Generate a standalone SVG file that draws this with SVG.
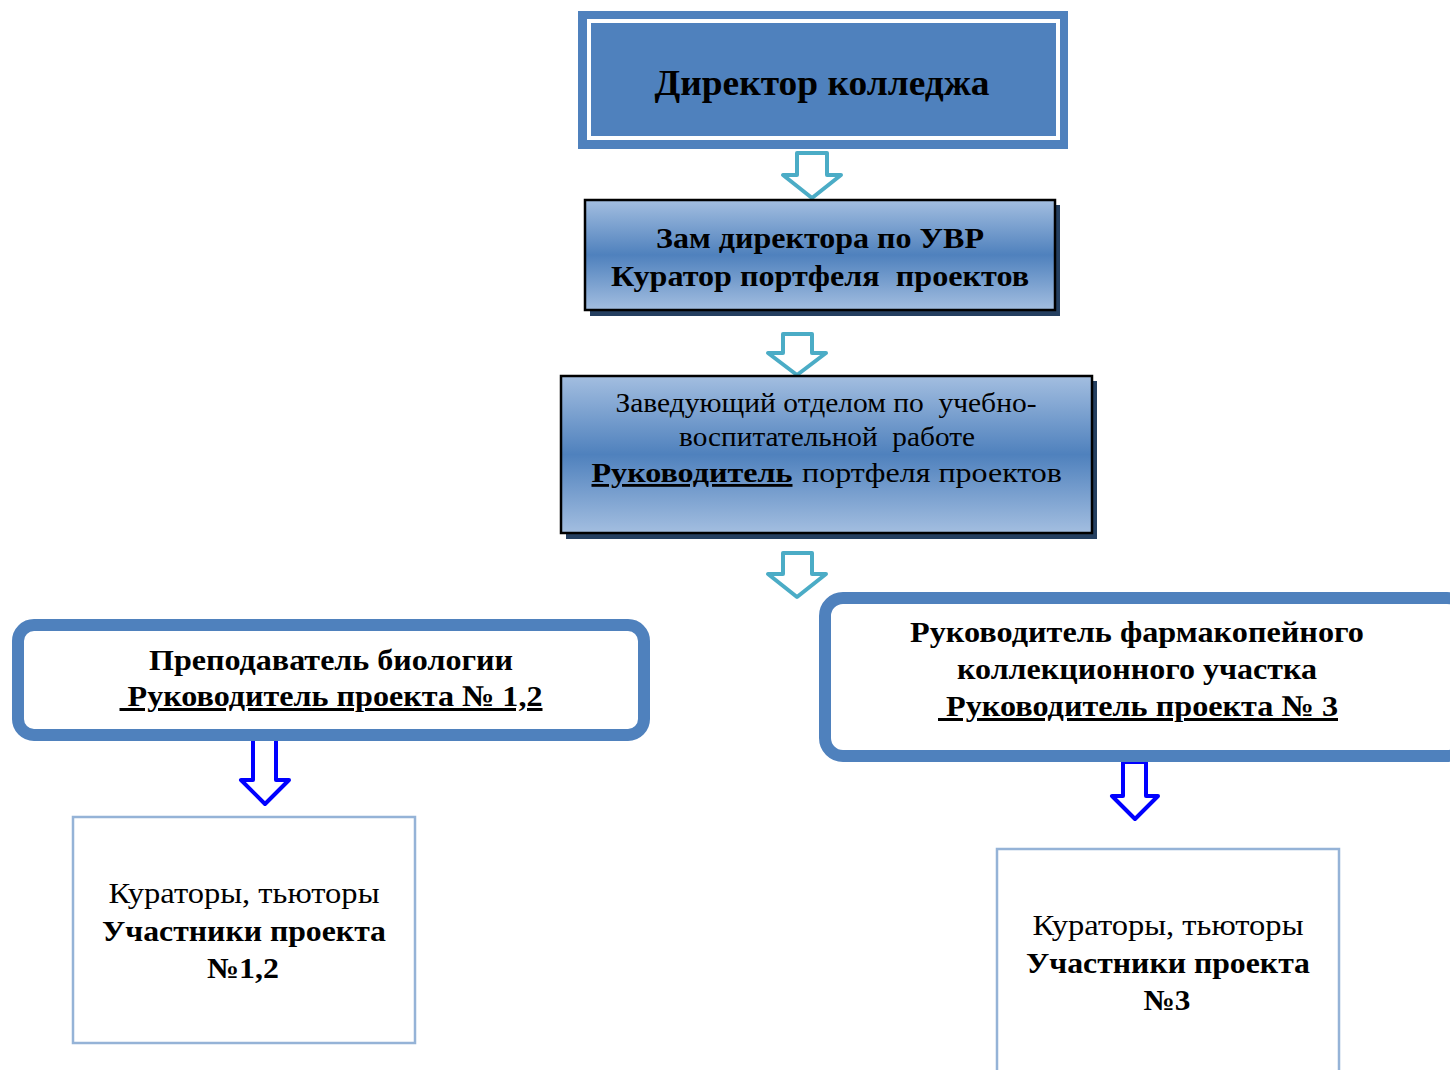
<svg xmlns="http://www.w3.org/2000/svg" width="1450" height="1070" viewBox="0 0 1450 1070">
<defs>
<linearGradient id="g" x1="0" y1="0" x2="0" y2="1">
<stop offset="0" stop-color="#A3BEE0"/>
<stop offset="0.5" stop-color="#4F81BD"/>
<stop offset="1" stop-color="#A3BEE0"/>
</linearGradient>
<style>
text{fill:#000;text-anchor:middle}
.b{font-weight:bold}
.u{text-decoration:underline}
.cy{fill:#fff;stroke:#4BACC6;stroke-width:4;stroke-linejoin:round}
.bl{fill:#fff;stroke:#0000FF;stroke-width:4;stroke-linejoin:round}
.sh{fill:#243F60}
.gb{fill:url(#g);stroke:#000;stroke-width:2.5}
.rb{fill:#fff;stroke:#4F81BD;stroke-width:12}
.lb{fill:#fff;stroke:#95B3D7;stroke-width:2.5}
</style>
</defs>
<rect width="1450" height="1070" fill="#fff"/>

<g id="connectors">
<path class="cy" d="M797,153 H827 V175 H841 L812,198 L783,175 H797 Z"/>
<path class="cy" d="M783,334 H812 V353 H826 L797,375 L768,353 H783 Z"/>
<path class="cy" d="M783,553 H812 V574 H826 L797,597 L768,574 H783 Z"/>
<path class="bl" d="M253,735 H276 V780 H289 L265,804 L241,780 H253 Z"/>
<path class="bl" d="M1123,762 H1146 V796 H1158 L1135,819 L1112,796 H1123 Z"/>
</g>

<g font-family="'Liberation Serif', 'Times New Roman', serif">
<g id="director">
<rect x="578" y="11" width="490" height="138" fill="#4F81BD"/>
<rect x="589" y="21" width="469" height="117" fill="none" stroke="#fff" stroke-width="4"/>
<text class="b" x="822" y="95" font-size="36" textLength="335" lengthAdjust="spacingAndGlyphs">Директор колледжа</text>
</g>

<g id="deputy">
<rect class="sh" x="590" y="205" width="470" height="111"/>
<rect class="gb" x="585" y="200" width="470" height="110"/>
<text class="b" x="820" y="248" font-size="30" textLength="328" lengthAdjust="spacingAndGlyphs">Зам директора по УВР</text>
<text class="b" x="820" y="286" font-size="30" textLength="418" lengthAdjust="spacingAndGlyphs" xml:space="preserve">Куратор портфеля  проектов</text>
</g>

<g id="head">
<rect class="sh" x="566" y="381" width="531" height="158"/>
<rect class="gb" x="561" y="376" width="531" height="157"/>
<text x="826" y="412" font-size="28" textLength="421" lengthAdjust="spacingAndGlyphs" xml:space="preserve">Заведующий отделом по  учебно-</text>
<text x="827" y="446" font-size="28" textLength="296" lengthAdjust="spacingAndGlyphs" xml:space="preserve">воспитательной  работе</text>
<text x="692" y="482" font-size="28" class="b u" textLength="201" lengthAdjust="spacingAndGlyphs">Руководитель</text>
<text x="932" y="482" font-size="28" textLength="260" lengthAdjust="spacingAndGlyphs">портфеля проектов</text>
</g>

<g id="teacher">
<rect class="rb" x="18" y="625" width="626" height="110" rx="16"/>
<text class="b" x="331" y="670" font-size="30" textLength="364" lengthAdjust="spacingAndGlyphs">Преподаватель биологии</text>
<text class="b u" x="331" y="706" font-size="30" textLength="423" lengthAdjust="spacingAndGlyphs" xml:space="preserve"> Руководитель проекта № 1,2</text>
</g>

<g id="pharm">
<rect class="rb" x="825" y="598" width="640" height="158" rx="18"/>
<text class="b" x="1137" y="642" font-size="30" textLength="454" lengthAdjust="spacingAndGlyphs">Руководитель фармакопейного</text>
<text class="b" x="1137" y="679" font-size="30" textLength="360" lengthAdjust="spacingAndGlyphs">коллекционного участка</text>
<text class="b u" x="1138" y="716" font-size="30" textLength="400" lengthAdjust="spacingAndGlyphs" xml:space="preserve"> Руководитель проекта № 3</text>
</g>

<g id="team12">
<rect class="lb" x="73" y="817" width="342" height="226"/>
<text x="244" y="903" font-size="29" textLength="271" lengthAdjust="spacingAndGlyphs">Кураторы, тьюторы</text>
<text class="b" x="244" y="941" font-size="29" textLength="284" lengthAdjust="spacingAndGlyphs">Участники проекта</text>
<text class="b" x="243" y="978" font-size="29" textLength="72" lengthAdjust="spacingAndGlyphs">№1,2</text>
</g>

<g id="team3">
<rect class="lb" x="997" y="849" width="342" height="240"/>
<text x="1168" y="935" font-size="29" textLength="271" lengthAdjust="spacingAndGlyphs">Кураторы, тьюторы</text>
<text class="b" x="1168" y="973" font-size="29" textLength="284" lengthAdjust="spacingAndGlyphs">Участники проекта</text>
<text class="b" x="1167" y="1010" font-size="29" textLength="47" lengthAdjust="spacingAndGlyphs">№3</text>
</g>
</g>
</svg>
